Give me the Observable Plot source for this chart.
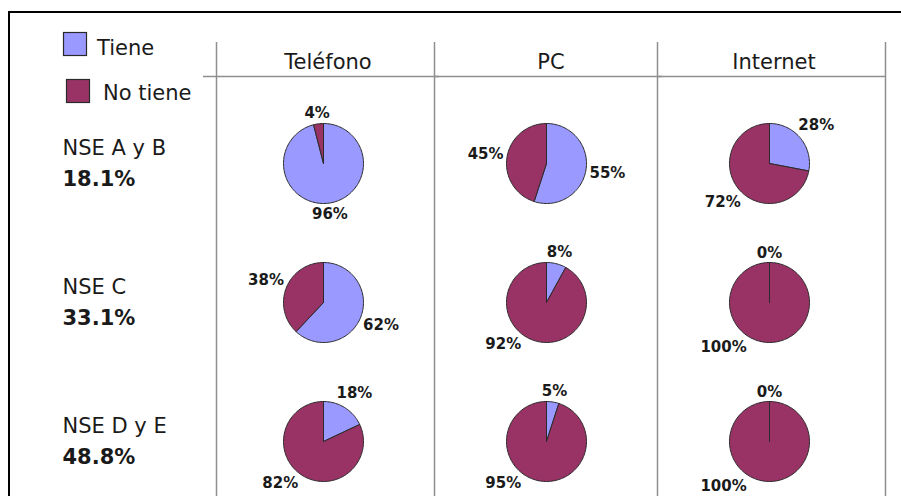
<!DOCTYPE html>
<html>
<head>
<meta charset="utf-8">
<script src="https://cdn.jsdelivr.net/npm/d3@7"></script>
<script src="https://cdn.jsdelivr.net/npm/@observablehq/plot@0.6"></script>
<style>
  html, body { margin: 0; padding: 0; background: #fff; }
  #wrap { position: relative; width: 901px; height: 496px; overflow: hidden; background: #fff;
          font-family: "DejaVu Sans", Verdana, sans-serif; }
  #wrap svg.plot { position: absolute; left: 0; top: 0; }
  #border { position: absolute; left: 8px; top: 11px; width: 2000px; height: 2000px;
            border-left: 2px solid #000; border-top: 2px solid #000; pointer-events: none; }
  #legend { position: absolute; left: 0; top: 0; }
</style>
</head>
<body>
<div id="wrap"><div id="border"></div></div>
<script>
// ---- data ----
const columns = ["Teléfono", "PC", "Internet"];
const segments = ["NSE A y B", "NSE C", "NSE D y E"];
const segmentShares = ["18.1%", "33.1%", "48.8%"];
const categories = ["Tiene", "No tiene"];
const colors = ["#9999ff", "#993366"];

const telefonoTiene = [96, 62, 18];
const telefonoNoTiene = [4, 38, 82];
const pcTiene = [55, 8, 5];
const pcNoTiene = [45, 92, 95];
const internetTiene = [28, 0, 0];
const internetNoTiene = [72, 100, 100];

// ---- build tables for the library ----
const seriesByColumn = {
  "Teléfono": [telefonoTiene, telefonoNoTiene],
  "PC": [pcTiene, pcNoTiene],
  "Internet": [internetTiene, internetNoTiene]
};

const slices = [];
columns.forEach(col => {
  segments.forEach((seg, ri) => {
    const vals = seriesByColumn[col].map(s => s[ri]);
    const total = d3.sum(vals);
    let acc = 0;
    vals.forEach((v, k) => {
      const a0 = acc / total * 2 * Math.PI;
      acc += v;
      const a1 = acc / total * 2 * Math.PI;
      slices.push({col, seg, category: categories[k], value: v, a0, a1});
    });
  });
});

// polygon outline of every slice in unit-radius coordinates
const piePoints = slices.flatMap(s => {
  const n = Math.max(1, Math.ceil((s.a1 - s.a0) / (Math.PI / 90)));
  const base = {col: s.col, seg: s.seg, category: s.category};
  const pts = [{...base, u: 0, v: 0}];
  for (let i = 0; i <= n; i++) {
    const a = s.a0 + (s.a1 - s.a0) * i / n;
    pts.push({...base, u: Math.sin(a), v: Math.cos(a)});
  }
  pts.push({...base, u: 0, v: 0});
  return pts;
});

const PX = 40;           // pixels per unit radius
const labelSize = 15;
const deg = Math.PI / 180;
const labels = slices.map(s => {
  let m = (s.a0 + s.a1) / 2;
  // keep labels off the bottom edge (as the spreadsheet does): push to lower-left
  if (m >= 180 * deg && m < 226 * deg) m = 226 * deg;
  const text = s.value + "%";
  const w = labelSize * (0.696 * String(s.value).length + 1.0);
  const d = PX + 3 + Math.abs(Math.sin(m)) * w / 2 + Math.abs(Math.cos(m)) * 6;
  return {col: s.col, seg: s.seg, text, u: Math.sin(m) * d / PX, v: Math.cos(m) * d / PX};
});

const rowLabels = segments.map((seg, i) => ({col: columns[0], seg, name: seg, share: segmentShares[i]}));
const cells = columns.flatMap(col => segments.map(seg => ({col, seg})));

const xDomain = [-2.675, 2.9];
const yDomain = [-1.375, 2.1];
const gridColor = "#8f8f8f";
const sepShift = d => (d.col === columns[0] ? 0 : -5);

const plot = Plot.plot({
  width: 901,
  height: 496,
  marginLeft: 216,
  marginRight: 16,
  marginTop: 79,
  marginBottom: 0,
  fx: {domain: columns, padding: 0},
  fy: {domain: segments, padding: 0, axis: null},
  x: {domain: xDomain, axis: null},
  y: {domain: yDomain, axis: null},
  color: {domain: categories, range: colors},
  style: {fontFamily: "'DejaVu Sans', Verdana, sans-serif", color: "#1a1a1a", background: "transparent"},
  marks: [
    // column separators
    Plot.ruleX(cells.filter(d => d.seg !== segments[0] && d.col === columns[0]), {fx: "col", fy: "seg", x: () => xDomain[0], stroke: gridColor, strokeWidth: 1.5}),
    Plot.ruleX(cells.filter(d => d.seg !== segments[0] && d.col !== columns[0]), {fx: "col", fy: "seg", x: () => xDomain[0], dx: -5, stroke: gridColor, strokeWidth: 1.5}),
    Plot.ruleX(cells.filter(d => d.seg === segments[0] && d.col === columns[0]), {fx: "col", fy: "seg", x: () => xDomain[0], stroke: gridColor, strokeWidth: 1.5, insetTop: -37}),
    Plot.ruleX(cells.filter(d => d.seg === segments[0] && d.col !== columns[0]), {fx: "col", fy: "seg", x: () => xDomain[0], dx: -5, stroke: gridColor, strokeWidth: 1.5, insetTop: -37}),
    Plot.ruleX(cells.filter(d => d.col === columns[2] && d.seg !== segments[0]), {fx: "col", fy: "seg", x: () => xDomain[1], stroke: gridColor, strokeWidth: 1.5}),
    Plot.ruleX(cells.filter(d => d.col === columns[2] && d.seg === segments[0]), {fx: "col", fy: "seg", x: () => xDomain[1], stroke: gridColor, strokeWidth: 1.5, insetTop: -37}),
    // header underline
    Plot.ruleY(cells.filter(d => d.seg === segments[0] && d.col !== columns[0]), {fx: "col", fy: "seg", y: () => yDomain[1], dy: -3, stroke: gridColor, strokeWidth: 1.5, insetLeft: -5}),
    Plot.ruleY(cells.filter(d => d.seg === segments[0] && d.col === columns[0]), {fx: "col", fy: "seg", y: () => yDomain[1], dy: -3, stroke: gridColor, strokeWidth: 1.5, insetLeft: -13}),
    Plot.axisFx({anchor: "top", tickSize: 0, tickPadding: 11, fontSize: 21, label: null, fill: "#1a1a1a"}),
    // pies
    Plot.line(piePoints, {fx: "col", fy: "seg", x: "u", y: "v", z: "category", fill: "category",
      stroke: "#2a2a2a", strokeWidth: 1, strokeLinejoin: "round", curve: "linear"}),
    // percentage labels
    Plot.text(labels, {fx: "col", fy: "seg", x: "u", y: "v", text: "text", fontSize: labelSize, fontWeight: "bold", fill: "#1a1a1a"}),
    // row labels
    Plot.text(rowLabels, {fx: "col", fy: "seg", y: () => 0, frameAnchor: "left", dx: -154, dy: -15, text: "name", textAnchor: "start", fontSize: 21, fill: "#1a1a1a"}),
    Plot.text(rowLabels, {fx: "col", fy: "seg", y: () => 0, frameAnchor: "left", dx: -154, dy: 16, text: "share", textAnchor: "start", fontSize: 21, fontWeight: "bold", fill: "#1a1a1a"})
  ]
});
plot.classList.add("plot");
const wrap = document.getElementById("wrap");
wrap.insertBefore(plot, wrap.firstChild);

// legend
const ns = "http://www.w3.org/2000/svg";
const leg = document.createElementNS(ns, "svg");
leg.setAttribute("id", "legend");
leg.setAttribute("width", 200);
leg.setAttribute("height", 120);
const legendItems = [
  {x: 63.5, y: 32.5, tx: 97, ty: 55},
  {x: 66.5, y: 79.5, tx: 103, ty: 100}
];
categories.forEach((c, i) => {
  const it = legendItems[i];
  const r = document.createElementNS(ns, "rect");
  r.setAttribute("x", it.x); r.setAttribute("y", it.y);
  r.setAttribute("width", 23); r.setAttribute("height", 23);
  r.setAttribute("fill", colors[i]); r.setAttribute("stroke", "#2a2a2a"); r.setAttribute("stroke-width", 1.2);
  leg.appendChild(r);
  const t = document.createElementNS(ns, "text");
  t.setAttribute("x", it.tx); t.setAttribute("y", it.ty);
  t.setAttribute("font-size", 21);
  t.setAttribute("font-family", "'DejaVu Sans', Verdana, sans-serif");
  t.setAttribute("fill", "#1a1a1a");
  t.textContent = c;
  leg.appendChild(t);
});
wrap.appendChild(leg);
</script>
</body>
</html>
